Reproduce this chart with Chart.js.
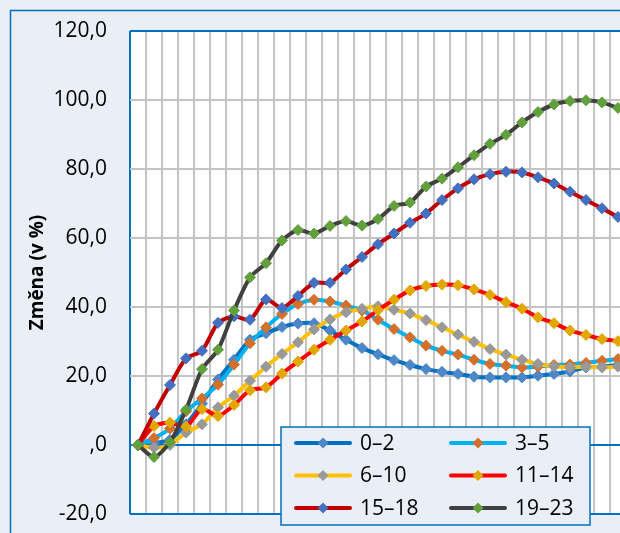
<!DOCTYPE html>
<html>
<head>
<meta charset="utf-8">
<script src="https://cdn.jsdelivr.net/npm/chart.js@4/dist/chart.umd.min.js"></script>
<style>
  html, body { margin: 0; padding: 0; overflow: hidden; background: #EAEFF7; }
  #wrap { width: 640px; height: 533px; }
</style>
</head>
<body>
<div id="wrap"><canvas id="chart" width="640" height="533"></canvas></div>
<script>
// --- Data ---
const categories = ['1','2','3','4','5','6','7','8','9','10','11','12','13','14','15','16',
  '17','18','19','20','21','22','23','24','25','26','27','28','29','30','31'];

const s0_2   = [0, 0.5, 1.5, 6, 12, 19, 24.7, 30.5, 32.4, 34.2, 35.2, 35.3, 33.2, 30.5, 28.1, 26.3,
  24.6, 23.2, 22.0, 21.2, 20.6, 19.8, 19.6, 19.6, 19.6, 20.1, 20.6, 21.3, 22.5, 22.7, 23.2];
const s3_5   = [0, 2, 4.8, 9.8, 13.5, 17.5, 23.3, 29.5, 34.1, 38.0, 40.9, 42.1, 41.6, 40.4, 39.0, 36.3,
  33.6, 31.2, 28.8, 27.3, 26.2, 24.7, 23.5, 23.0, 22.5, 22.7, 23.2, 23.3, 23.8, 24.4, 24.9];
const s6_10  = [0, -0.8, 0, 3.6, 6.0, 10.9, 14.3, 18.6, 22.7, 26.4, 29.8, 33.5, 36.4, 38.5, 39.5, 40.2,
  39.2, 38.1, 36.2, 34.1, 32.0, 29.9, 27.8, 26.2, 24.7, 23.5, 22.8, 22.5, 22.7, 22.5, 22.7];
const s11_14 = [0, 5.5, 6.5, 5.3, 10.4, 8.4, 11.6, 15.9, 16.7, 20.7, 24.2, 27.6, 30.5, 33.2, 35.8, 39.1,
  42.1, 44.8, 46.1, 46.5, 46.3, 45.1, 43.5, 41.4, 39.5, 37.0, 35.3, 33.2, 31.9, 30.7, 30.1];
const s15_18 = [0, 9.1, 17.4, 25.1, 27.3, 35.4, 37.3, 36.3, 42.2, 39.7, 43.2, 47.0, 47.0, 50.9, 54.5, 58.2,
  61.3, 64.4, 67.1, 71.0, 74.4, 77.0, 78.5, 79.2, 79.0, 77.6, 75.8, 73.4, 71.0, 68.6, 66.1];
const s19_23 = [0, -3.5, 0.8, 10.2, 22.0, 27.6, 39.0, 48.6, 52.7, 59.3, 62.3, 61.3, 63.5, 64.9, 63.6, 65.5,
  69.3, 70.3, 74.9, 77.2, 80.5, 84.0, 87.3, 89.9, 93.5, 96.5, 98.7, 99.7, 99.9, 99.3, 97.7];

const seriesNames = ['0–2', '3–5', '6–10', '11–14', '15–18', '19–23'];
const seriesData = [s0_2, s3_5, s6_10, s11_14, s15_18, s19_23];
const lineColors = ['#0070C0', '#00B0F0', '#FFC000', '#FF0000', '#C00000', '#404040'];
const markerColors = ['#4D87C7', '#D4702C', '#999999', '#E2A700', '#4470C2', '#62A03E'];

const yTicks = [-20, 0, 20, 40, 60, 80, 100, 120];

// --- Helpers ---
const BLUE = '#0070C0', GRID = '#C4C4C4', BG = '#EAEFF7';
const FONT = "'Open Sans', 'Noto Sans', sans-serif";

function fmt(v) {
  if (v === 0) return ',0';
  return v.toFixed(1).replace('.', ',');
}
function diamond(ctx, x, y, r, color) {
  ctx.beginPath();
  ctx.moveTo(x, y - r); ctx.lineTo(x + r, y); ctx.lineTo(x, y + r); ctx.lineTo(x - r, y);
  ctx.closePath();
  ctx.fillStyle = color; ctx.fill();
}

// --- Plugins ---
const background = {
  id: 'background',
  beforeDraw(chart) {
    const { ctx, chartArea: a } = chart;
    ctx.save();
    ctx.fillStyle = BG;
    ctx.fillRect(0, 0, chart.width, chart.height);
    ctx.strokeStyle = BLUE; ctx.lineWidth = 1.5;
    ctx.strokeRect(10.5, 10.5, chart.width + 20, chart.height + 20);
    ctx.fillStyle = '#fff';
    ctx.fillRect(a.left, a.top, a.right - a.left, a.bottom - a.top);
    ctx.restore();
  }
};

const boxLegend = {
  id: 'boxLegend',
  afterDraw(chart) {
    const ctx = chart.ctx;
    const bx = 281, by = 427, bw = 309, bh = 98;
    ctx.save();
    ctx.fillStyle = BG;
    ctx.fillRect(bx, by, bw, bh);
    ctx.strokeStyle = BLUE; ctx.lineWidth = 1.5;
    ctx.strokeRect(bx, by, bw, bh);
    ctx.font = '21px ' + FONT;
    ctx.textBaseline = 'middle';
    chart.data.datasets.forEach((ds, i) => {
      const col = i % 2, row = Math.floor(i / 2);
      const x0 = bx + 15 + col * 155, y0 = by + 16 + row * 32.5;
      ctx.strokeStyle = ds.borderColor; ctx.lineWidth = 4; ctx.lineCap = 'round';
      ctx.beginPath(); ctx.moveTo(x0, y0); ctx.lineTo(x0 + 54, y0); ctx.stroke();
      diamond(ctx, x0 + 27, y0, 5.5, ds.pointBackgroundColor);
      ctx.fillStyle = '#000';
      ctx.fillText(ds.label, x0 + 64, y0 + 1);
    });
    ctx.restore();
  }
};

// --- Chart ---
const datasets = seriesNames.map((name, i) => ({
  label: name,
  data: seriesData[i],
  borderColor: lineColors[i],
  borderWidth: 4,
  pointStyle: 'rectRot',
  pointRadius: 5.5,
  pointBackgroundColor: markerColors[i],
  pointBorderColor: markerColors[i],
  pointBorderWidth: 1,
  tension: 0.25,
  order: seriesNames.length - i
}));

new Chart(document.getElementById('chart'), {
  type: 'line',
  data: { labels: categories, datasets },
  options: {
    responsive: false,
    animation: false,
    layout: { padding: { left: 0, top: 31, right: 14, bottom: 19 } },
    plugins: { legend: { display: false }, tooltip: { enabled: false } },
    scales: {
      x: {
        offset: true,
        grid: {
          offset: true, drawTicks: false, lineWidth: 2,
          color: c => c.index === 0 ? BLUE : GRID
        },
        border: { display: false },
        ticks: { display: false },
        afterFit: s => { s.height = 0; s.paddingLeft = 0; s.paddingRight = 0; }
      },
      y: {
        min: -20, max: 120,
        afterBuildTicks: s => { s.ticks = yTicks.map(v => ({ value: v })); },
        grid: {
          drawTicks: false, lineWidth: 2,
          color: c => (c.tick.value === 0 || c.tick.value === -20 || c.tick.value === 120) ? BLUE : GRID
        },
        border: { display: false },
        ticks: {
          padding: 23, color: '#000',
          font: { family: FONT, size: 21 },
          callback: v => fmt(v)
        },
        title: {
          display: true, text: 'Změna (v %)', color: '#000',
          font: { family: FONT, size: 19, weight: 'bold' },
          padding: { top: 26, bottom: 0 }
        },
        afterFit: s => { s.width = 130; s.paddingTop = 0; s.paddingBottom = 0; }
      }
    }
  },
  plugins: [background, boxLegend]
});
</script>
</body>
</html>
